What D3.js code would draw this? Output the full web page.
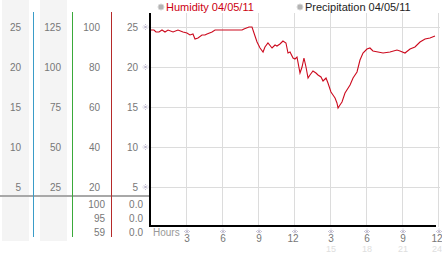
<!DOCTYPE html>
<html>
<head>
<meta charset="utf-8">
<script src="https://cdn.jsdelivr.net/npm/d3@7"></script>
<style>
  html, body { margin: 0; padding: 0; background: #fff; }
  svg { display: block; font-family: "Liberation Sans", Arial, sans-serif; }
</style>
</head>
<body>
<div id="app"></div>
<script>
// humidity readings: [hour, percent]
const humidity = [
  [0, 98.5], [0.33, 98.5], [0.5, 97.5], [0.75, 97.5], [1.0, 98.5], [1.25, 97.5],
  [1.5, 98.5], [1.92, 97.5], [2.33, 98.5], [2.75, 97.5], [3.08, 97], [3.33, 96],
  [3.58, 96.5], [3.75, 94], [4.0, 94.5], [4.33, 96], [4.58, 96], [4.75, 96.5],
  [5.17, 97.5], [5.42, 98.5], [5.83, 98.5], [7.67, 98.5], [7.83, 99], [8.25, 100],
  [8.5, 100], [8.75, 95.5], [8.92, 92.5], [9.17, 89.5], [9.42, 87.5], [9.58, 90],
  [9.83, 92], [10.17, 89.5], [10.42, 91], [10.58, 90.5], [10.83, 91.5], [11.08, 93],
  [11.33, 92], [11.5, 87], [11.67, 87.5], [11.92, 84.5], [12.08, 84], [12.25, 85],
  [12.5, 77], [12.67, 80], [12.83, 84.5], [13.0, 80], [13.17, 74.5], [13.33, 76],
  [13.58, 78], [13.83, 77], [14.0, 76], [14.25, 75], [14.42, 73], [14.67, 74.5],
  [14.83, 72], [15.08, 67.5], [15.25, 66], [15.42, 64.5], [15.58, 62], [15.67, 59.5],
  [15.83, 61], [16.0, 62.5], [16.25, 67], [16.67, 71], [16.92, 74.5], [17.25, 77.5],
  [17.5, 83.5], [17.75, 87], [18.08, 89], [18.33, 89.5], [18.58, 88], [19.0, 87.5],
  [19.42, 87], [20.0, 87.5], [20.58, 88.5], [20.83, 88], [21.25, 87], [21.67, 89],
  [22.08, 90], [22.5, 92.5], [22.92, 94], [23.33, 94.5], [23.75, 95.5]
];

// left-hand scale columns
const col1Ticks = [25, 20, 15, 10, 5];
const col2Ticks = [125, 100, 75, 50, 25];
const col3Ticks = [100, 80, 60, 40, 20];
const col4Ticks = [25, 20, 15, 10, 5];

// summary table under the scales (max, last, min)
const humidityStats = ['100', '95', '59'];
const precipStats = ['0.0', '0.0', '0.0'];

const hourTicks = [3, 6, 9, 12, 15, 18, 21, 24];
const legendItems = [
  { label: 'Humidity 04/05/11', color: '#cc0011' },
  { label: 'Precipitation 04/05/11', color: '#222' }
];

const W = 442, H = 253;
const plotLeft = 150, plotRight = 438, plotTop = 13, plotBottom = 227;

const svg = d3.select('#app').append('svg')
  .attr('width', W)
  .attr('height', H);

const x = d3.scaleLinear().domain([0, 24]).range([plotLeft, plotRight]);
const yHum = d3.scaleLinear().domain([0, 100]).range([plotBottom, 27]);

// little dotted tick mark used on both axes
const markPath = 'M-1.5,-1.5L1.5,1.5M1.5,-1.5L-1.5,1.5';
function tickMark(sel) {
  sel.append('path')
    .attr('d', markPath)
    .attr('stroke', '#a29bb8')
    .attr('stroke-width', 0.9)
    .attr('fill', 'none');
  sel.selectAll('circle.dot')
    .data([[-2.5, 0], [2.5, 0], [0, -2.5], [0, 2.5]])
    .join('circle')
    .attr('class', 'dot')
    .attr('cx', d => d[0]).attr('cy', d => d[1])
    .attr('r', 0.5)
    .attr('fill', '#b3adc8');
}

// grey column backgrounds
svg.append('rect').attr('x', 2).attr('y', 0).attr('width', 27).attr('height', 241).attr('fill', '#f4f4f4');
svg.append('rect').attr('x', 40).attr('y', 0).attr('width', 27).attr('height', 241).attr('fill', '#f4f4f4');

// grid lines
svg.append('g')
  .selectAll('line')
  .data(col3Ticks)
  .join('line')
  .attr('x1', plotLeft).attr('x2', 440)
  .attr('y1', d => yHum(d) + 0.5).attr('y2', d => yHum(d) + 0.5)
  .attr('stroke', '#dcdcdc');

svg.append('g')
  .selectAll('line')
  .data(hourTicks)
  .join('line')
  .attr('x1', d => Math.round(x(d)) + 0.5).attr('x2', d => Math.round(x(d)) + 0.5)
  .attr('y1', plotTop).attr('y2', plotBottom)
  .attr('stroke', '#dcdcdc');

// separator under the scale columns
svg.append('line')
  .attr('x1', 0).attr('x2', plotLeft)
  .attr('y1', 196).attr('y2', 196)
  .attr('stroke', '#a8a8a8').attr('stroke-width', 2);

// coloured column dividers
const dividers = [
  { x: 33.5, color: '#3a9cc8' },
  { x: 72.5, color: '#3aa93a' },
  { x: 111.5, color: '#b52a2a' }
];
svg.append('g')
  .selectAll('line')
  .data(dividers)
  .join('line')
  .attr('x1', d => d.x).attr('x2', d => d.x)
  .attr('y1', 12).attr('y2', 237)
  .attr('stroke', d => d.color);

// scale columns, drawn with d3 axes
function scaleColumn(ticks, max, xPos) {
  const s = d3.scaleLinear().domain([0, max]).range([plotBottom, 27]);
  const g = svg.append('g')
    .attr('transform', `translate(${xPos},0)`)
    .call(d3.axisLeft(s).tickValues(ticks).tickSize(0).tickPadding(0));
  g.select('.domain').remove();
  g.selectAll('text')
    .attr('fill', '#777')
    .attr('font-size', 10)
    .attr('font-family', '"Liberation Sans", Arial, sans-serif')
    .attr('dy', '0.36em');
}
scaleColumn(col1Ticks, 25, 21);
scaleColumn(col2Ticks, 125, 61);
scaleColumn(col3Ticks, 100, 100);
scaleColumn(col4Ticks, 25, 138);

// tick marks on the y axis
svg.append('g')
  .selectAll('g')
  .data(col3Ticks)
  .join('g')
  .attr('transform', d => `translate(145.5,${yHum(d)})`)
  .call(tickMark);

// summary table
const rowY = [204, 218, 232];
svg.append('g')
  .selectAll('text')
  .data(humidityStats)
  .join('text')
  .attr('x', 105).attr('y', (d, i) => rowY[i]).attr('dy', '0.36em')
  .attr('text-anchor', 'end').attr('font-size', 10).attr('fill', '#777')
  .text(d => d);
svg.append('g')
  .selectAll('text')
  .data(precipStats)
  .join('text')
  .attr('x', 143).attr('y', (d, i) => rowY[i]).attr('dy', '0.36em')
  .attr('text-anchor', 'end').attr('font-size', 10).attr('fill', '#777')
  .text(d => d);

// humidity line
const line = d3.line()
  .x(d => x(d[0]))
  .y(d => yHum(d[1]));
svg.append('path')
  .datum(humidity)
  .attr('d', line)
  .attr('fill', 'none')
  .attr('stroke', '#cc0a1e')
  .attr('stroke-width', 1.1);

// axes lines
svg.append('line')
  .attr('x1', plotLeft).attr('x2', plotLeft)
  .attr('y1', plotTop).attr('y2', plotBottom)
  .attr('stroke', '#000').attr('stroke-width', 2);
svg.append('line')
  .attr('x1', plotLeft - 1).attr('x2', 436)
  .attr('y1', 226).attr('y2', 226)
  .attr('stroke', '#000').attr('stroke-width', 2);

// x axis ticks and labels
const xg = svg.append('g');
xg.selectAll('g.mark')
  .data(hourTicks)
  .join('g')
  .attr('class', 'mark')
  .attr('transform', d => `translate(${x(d) + 1},231.5)`)
  .call(tickMark);
xg.selectAll('text.h12')
  .data(hourTicks)
  .join('text')
  .attr('class', 'h12')
  .attr('x', d => x(d) + (d % 12 === 0 ? -1 : 1)).attr('y', 238).attr('dy', '0.36em')
  .attr('text-anchor', 'middle').attr('font-size', 10).attr('fill', '#777')
  .text(d => d > 12 ? d - 12 : d);
xg.selectAll('text.h24')
  .data(hourTicks.filter(d => d > 12))
  .join('text')
  .attr('class', 'h24')
  .attr('x', d => x(d) + (d === 24 ? -1 : 1)).attr('y', 248.3).attr('dy', '0.36em')
  .attr('text-anchor', 'middle').attr('font-size', 9).attr('fill', '#dedede')
  .text(d => d);
xg.append('text')
  .attr('x', 153).attr('y', 232).attr('dy', '0.36em')
  .attr('font-size', 10).attr('fill', '#999')
  .text('Hours');

// legend
const legendX = [161, 300];
const lg = svg.append('g')
  .selectAll('g')
  .data(legendItems)
  .join('g')
  .attr('transform', (d, i) => `translate(${legendX[i]},7)`);
lg.append('circle')
  .attr('r', 3)
  .attr('fill', '#b4b4b4')
  .attr('stroke', '#d8d8d8');
lg.append('text')
  .attr('x', 5).attr('dy', '0.36em')
  .attr('font-size', 11)
  .attr('fill', d => d.color)
  .text(d => d.label);
</script>
</body>
</html>
